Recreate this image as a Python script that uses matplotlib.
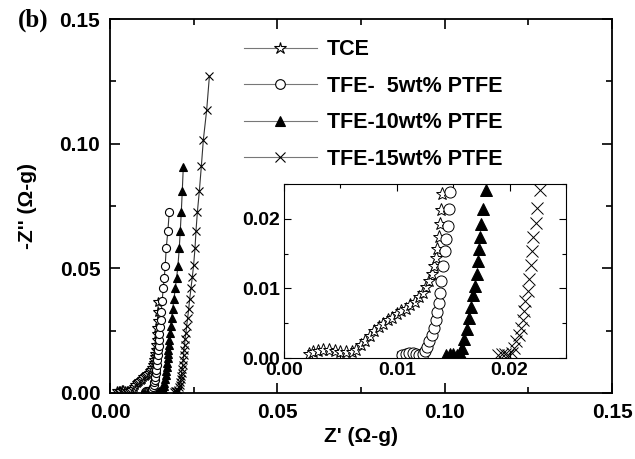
import matplotlib
matplotlib.use("Agg")
import matplotlib.pyplot as plt
from matplotlib.ticker import MultipleLocator

plt.rcParams['font.family'] = ['Liberation Sans', 'DejaVu Sans']
plt.rcParams['font.weight'] = 'bold'

# Nyquist data, Z' and -Z'' in ohm-g
tce_x = [0.0022, 0.0026, 0.0030, 0.0035, 0.0040, 0.0045, 0.0050, 0.0055, 0.0060, 0.0064,
         0.0068, 0.0072, 0.0076, 0.0080, 0.0084, 0.0088, 0.0092, 0.0096, 0.0100, 0.0104,
         0.0108, 0.0112, 0.0116, 0.0120, 0.0123, 0.0126, 0.0129, 0.0131, 0.0133, 0.0135,
         0.0136, 0.0137, 0.0138, 0.0139, 0.0140, 0.0141, 0.0142, 0.0143, 0.0144]
tce_y = [0.0006, 0.0009, 0.0010, 0.0011, 0.0011, 0.0010, 0.0009, 0.0008, 0.0009, 0.0012,
         0.0018, 0.0025, 0.0032, 0.0039, 0.0044, 0.0049, 0.0054, 0.0058, 0.0063, 0.0067,
         0.0071, 0.0076, 0.0081, 0.0087, 0.0094, 0.0102, 0.0111, 0.0121, 0.0132, 0.0144,
         0.0157, 0.0174, 0.0192, 0.0213, 0.0235, 0.0260, 0.0290, 0.0325, 0.0365]

t5_x = [0.0105, 0.0108, 0.0111, 0.0114, 0.0117, 0.0120, 0.0123, 0.0125, 0.0127, 0.0129,
        0.0131, 0.0133, 0.0135, 0.0136, 0.0137, 0.0138, 0.0139, 0.0141, 0.0143, 0.0144,
        0.0145, 0.0146, 0.0147, 0.0149, 0.0151, 0.0153, 0.0156, 0.0159, 0.0162, 0.0165,
        0.0168, 0.0173, 0.0177]
t5_y = [0.0004, 0.0006, 0.0007, 0.0007, 0.0006, 0.0005, 0.0006, 0.0010, 0.0016, 0.0024,
        0.0033, 0.0043, 0.0054, 0.0066, 0.0079, 0.0094, 0.0111, 0.0132, 0.0154, 0.0171,
        0.0190, 0.0214, 0.0238, 0.0264, 0.0292, 0.0324, 0.0370, 0.0420, 0.0460, 0.0510,
        0.0580, 0.0650, 0.0724]

t10_x = [0.0144, 0.0147, 0.0150, 0.0153, 0.0156, 0.0158, 0.0160, 0.0162, 0.0164, 0.0166,
         0.0168, 0.0169, 0.0171, 0.0172, 0.0173, 0.0174, 0.0175, 0.0176, 0.0179, 0.0181,
         0.0184, 0.0187, 0.0191, 0.0195, 0.0199, 0.0203, 0.0207, 0.0210, 0.0213, 0.0216,
         0.0219]
t10_y = [0.0004, 0.0006, 0.0006, 0.0005, 0.0007, 0.0015, 0.0028, 0.0042, 0.0058, 0.0074,
         0.0090, 0.0103, 0.0120, 0.0140, 0.0157, 0.0174, 0.0193, 0.0214, 0.0241, 0.0268,
         0.0300, 0.0335, 0.0375, 0.0420, 0.0460, 0.0510, 0.0580, 0.0650, 0.0724, 0.0810,
         0.0905]

t15_x = [0.0190, 0.0193, 0.0196, 0.0199, 0.0202, 0.0204, 0.0206, 0.0208, 0.0210, 0.0212,
         0.0213, 0.0214, 0.0216, 0.0217, 0.0219, 0.0220, 0.0221, 0.0223, 0.0224, 0.0227,
         0.0229, 0.0232, 0.0235, 0.0238, 0.0242, 0.0246, 0.0250, 0.0254, 0.0257, 0.0261,
         0.0267, 0.0273, 0.0279, 0.0289, 0.0297]
t15_y = [0.0004, 0.0006, 0.0006, 0.0005, 0.0007, 0.0014, 0.0024, 0.0033, 0.0043, 0.0055,
         0.0068, 0.0082, 0.0097, 0.0114, 0.0133, 0.0154, 0.0174, 0.0194, 0.0216, 0.0241,
         0.0268, 0.0300, 0.0335, 0.0375, 0.0420, 0.0465, 0.0515, 0.0580, 0.0650, 0.0724,
         0.0810, 0.0910, 0.1016, 0.1136, 0.1270]

labels = ["TCE", "TFE-  5wt% PTFE", "TFE-10wt% PTFE", "TFE-15wt% PTFE"]
series = [(tce_x, tce_y), (t5_x, t5_y), (t10_x, t10_y), (t15_x, t15_y)]
markers = ['*', 'o', '^', 'x']
faces = ['white', 'white', 'black', 'black']
msize = [7.5, 5.8, 6.3, 6.3]

fig = plt.figure(figsize=(6.35, 4.59), dpi=100)
ax = fig.add_axes([0.1732, 0.1438, 0.7906, 0.8148])

for (x, y), m, fc, ms, lab in zip(series, markers, faces, msize, labels):
    ax.plot(x, y, color='#333333', lw=0.8, marker=m, ms=ms, mfc=fc, mec='black',
            mew=0.8, label=lab)

ax.set_xlim(0, 0.15)
ax.set_ylim(0, 0.15)
ax.xaxis.set_major_locator(MultipleLocator(0.05))
ax.xaxis.set_minor_locator(MultipleLocator(0.025))
ax.yaxis.set_major_locator(MultipleLocator(0.05))
ax.yaxis.set_minor_locator(MultipleLocator(0.025))
ax.tick_params(which='both', direction='in', top=True, right=True, width=1.2,
               labelsize=15, pad=7)
ax.tick_params(which='major', length=7)
ax.tick_params(which='minor', length=4)
ax.xaxis.set_major_formatter(plt.FormatStrFormatter('%.2f'))
ax.yaxis.set_major_formatter(plt.FormatStrFormatter('%.2f'))
for s in ax.spines.values():
    s.set_linewidth(1.3)
ax.set_xlabel("Z' (\u03a9-g)", fontsize=15, fontweight='bold', labelpad=4)
ax.set_ylabel("-Z'' (\u03a9-g)", fontsize=15, fontweight='bold', labelpad=16)

leg = ax.legend(loc='upper left', bbox_to_anchor=(0.245, 0.975), frameon=False,
                fontsize=15.5, handlelength=3.4, handletextpad=0.45,
                labelspacing=0.72, borderpad=0, markerscale=1.2)
for ln in leg.get_lines():
    ln.set_color('#777777')
    ln.set_markeredgecolor('black')

fig.text(0.028, 0.955, "(b)", family=['Liberation Serif', 'DejaVu Serif'],
         fontsize=18, fontweight='bold', va='center')

# inset zoom of the high-frequency region
ins = fig.add_axes([0.4472, 0.2200, 0.4441, 0.3791])
for (x, y), m, fc, ms in zip(series, markers, faces, msize):
    ins.plot(x, y, ls='none', marker=m, ms=ms + 2.2, mfc=fc, mec='black', mew=0.7)
ins.set_xlim(0, 0.025)
ins.set_ylim(0, 0.025)
ins.xaxis.set_major_locator(MultipleLocator(0.01))
ins.xaxis.set_minor_locator(MultipleLocator(0.005))
ins.yaxis.set_major_locator(MultipleLocator(0.01))
ins.yaxis.set_minor_locator(MultipleLocator(0.005))
ins.xaxis.set_major_formatter(plt.FormatStrFormatter('%.2f'))
ins.yaxis.set_major_formatter(plt.FormatStrFormatter('%.2f'))
ins.tick_params(which='both', direction='in', top=True, right=True, width=0.8,
                labelsize=14, pad=3)
ins.tick_params(which='major', length=5)
ins.tick_params(which='minor', length=3)
for s in ins.spines.values():
    s.set_linewidth(0.8)

fig.savefig("out.png", dpi=100)
